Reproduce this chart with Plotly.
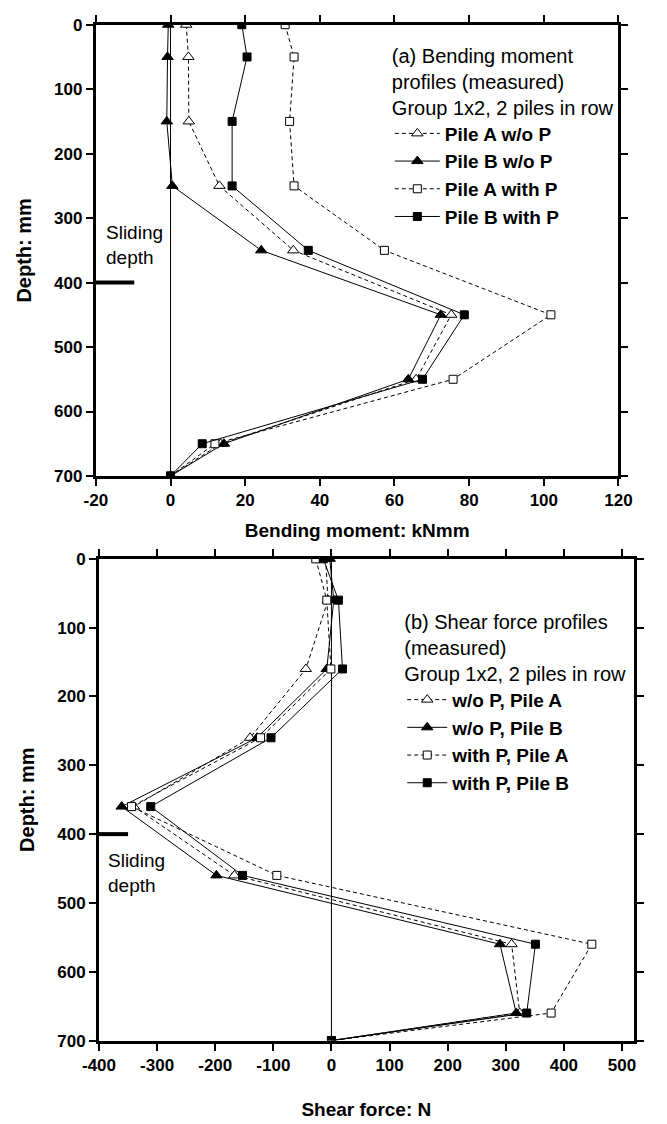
import plotly.graph_objects as go

# ---------------- data ----------------
depth_bm = [0, 50, 150, 250, 350, 450, 550, 650, 700]
bm_pileA_woP = [4.2, 4.8, 4.9, 13.1, 32.9, 75.2, 65.8, 13.4, 0]
bm_pileB_woP = [-0.6, -0.8, -1.0, 0.5, 24.3, 72.4, 63.7, 14.3, 0]
bm_pileA_withP = [30.7, 33.1, 31.9, 33.1, 57.3, 101.9, 75.7, 11.9, 0]
bm_pileB_withP = [19.1, 20.5, 16.5, 16.5, 36.9, 78.7, 67.5, 8.5, 0]

depth_sf = [0, 60, 160, 260, 360, 460, 560, 660, 700]
sf_woP_A = [-10, -6, -44, -140, -340, -167, 310, 324, 0]
sf_woP_B = [-3, 4, -8, -128, -361, -198, 290, 318, 0]
sf_withP_A = [-27, -8, -1, -122, -344, -94, 448, 378, 0]
sf_withP_B = [-14, 12, 19, -104, -311, -153, 351, 336, 0]

bm_ticks = [-20, 0, 20, 40, 60, 80, 100, 120]
sf_ticks = [-400, -300, -200, -100, 0, 100, 200, 300, 400, 500]
depth_ticks = [0, 100, 200, 300, 400, 500, 600, 700]

sliding_depth = 400
bm_slide_x = [-20, -9.7]
sf_slide_x = [-400, -350]

bm_names = ["Pile A w/o P", "Pile B w/o P", "Pile A with P", "Pile B with P"]
sf_names = ["w/o P, Pile A", "w/o P, Pile B", "with P, Pile A", "with P, Pile B"]

# ---------------- styles ----------------
FONT = "Liberation Sans"
styles = [
    dict(symbol="triangle-up", fill="white", dash="4px,3px", size=10),
    dict(symbol="triangle-up", fill="black", dash="solid", size=10),
    dict(symbol="square", fill="white", dash="4px,3px", size=8),
    dict(symbol="square", fill="black", dash="solid", size=8),
]

W, H = 667, 1124
BM_XDOM = [82.7 / W, 630.8 / W]
BM_YDOM = [1 - 475 / H, 1 - 16 / H]
SF_XDOM = [86 / W, 646.7 / W]
SF_YDOM = [1 - 1049.3 / H, 1 - 559.3 / H]
BM_XRANGE = [-20, 120]
SF_XRANGE = [-400, 520]
DEPTH_RANGE = [700, 0]

fig = go.Figure()

for xa, ya, sx in [("x", "y", bm_slide_x), ("x2", "y2", sf_slide_x)]:
    fig.add_trace(go.Scatter(x=[0, 0], y=[depth_ticks[0], depth_ticks[-1]], mode="lines",
                             line=dict(color="black", width=1), showlegend=False,
                             xaxis=xa, yaxis=ya, hoverinfo="skip"))
    fig.add_trace(go.Scatter(x=sx, y=[sliding_depth, sliding_depth], mode="lines",
                             line=dict(color="black", width=4), showlegend=False,
                             xaxis=xa, yaxis=ya, hoverinfo="skip"))

for name, xs, st in zip(bm_names, [bm_pileA_woP, bm_pileB_woP, bm_pileA_withP, bm_pileB_withP], styles):
    fig.add_trace(go.Scatter(
        x=xs, y=depth_bm, name=name, mode="lines+markers",
        line=dict(color="black", width=1, dash=st["dash"]),
        marker=dict(symbol=st["symbol"], size=st["size"], color=st["fill"],
                    line=dict(color="black", width=1)),
        xaxis="x", yaxis="y", legend="legend"))

for name, xs, st in zip(sf_names, [sf_woP_A, sf_woP_B, sf_withP_A, sf_withP_B], styles):
    fig.add_trace(go.Scatter(
        x=xs, y=depth_sf, name=name, mode="lines+markers",
        line=dict(color="black", width=1, dash=st["dash"]),
        marker=dict(symbol=st["symbol"], size=st["size"], color=st["fill"],
                    line=dict(color="black", width=1)),
        xaxis="x2", yaxis="y2", legend="legend2"))

tickfont = dict(family=FONT, size=17, color="black", weight="bold")
titlefont = dict(family=FONT, size=19, color="black", weight="bold")
ytitlefont = dict(family=FONT, size=20, color="black", weight="bold")


def axis(**kw):
    d = dict(showline=True, linewidth=3, linecolor="black", mirror="allticks",
             ticks="outside", ticklen=7, tickwidth=2, tickcolor="black",
             showgrid=False, zeroline=False, tickfont=tickfont)
    d.update(kw)
    return d


fig.update_layout(
    width=W, height=H, margin=dict(l=0, r=0, t=0, b=0),
    paper_bgcolor="white", plot_bgcolor="white",
    font=dict(family=FONT, color="black"),
    xaxis=axis(domain=BM_XDOM, anchor="y", range=BM_XRANGE,
               tickmode="array", tickvals=bm_ticks, ticktext=[str(v) for v in bm_ticks],
               title=dict(text="Bending moment: kNmm", font=titlefont, standoff=15)),
    yaxis=axis(domain=BM_YDOM, anchor="x", range=DEPTH_RANGE,
               tickmode="array", tickvals=depth_ticks, ticktext=[str(v) for v in depth_ticks],
               title=dict(text="Depth: mm", font=ytitlefont, standoff=18)),
    xaxis2=axis(domain=SF_XDOM, anchor="y2", range=SF_XRANGE,
                tickmode="array", tickvals=sf_ticks, ticktext=[str(v) for v in sf_ticks],
                title=dict(text="Shear force: N", font=titlefont, standoff=29)),
    yaxis2=axis(domain=SF_YDOM, anchor="x2", range=DEPTH_RANGE,
                tickmode="array", tickvals=depth_ticks, ticktext=[str(v) for v in depth_ticks],
                title=dict(text="Depth: mm", font=ytitlefont, standoff=18)),
    legend=dict(x=391 / W, y=1 - 28 / H, xanchor="left", yanchor="top",
                bgcolor="rgba(0,0,0,0)", borderwidth=0, itemwidth=45,
                font=dict(family=FONT, size=19, color="black", weight="bold"),
                title=dict(text="(a) Bending moment<br>profiles (measured)<br>Group 1x2, 2 piles in row",
                           font=dict(family=FONT, size=20, color="black", weight="normal")),
                tracegroupgap=0),
    legend2=dict(x=404 / W, y=1 - 604 / H, xanchor="left", yanchor="top",
                 bgcolor="rgba(0,0,0,0)", borderwidth=0, itemwidth=40,
                 font=dict(family=FONT, size=19, color="black", weight="bold"),
                 title=dict(text="(b) Shear force profiles<br>(measured)<br>Group 1x2, 2 piles in row",
                            font=dict(family=FONT, size=20, color="black", weight="normal")),
                 tracegroupgap=0),
    annotations=[
        dict(text="Sliding<br>depth", x=-17.7, y=342, xref="x", yref="y", xanchor="left",
             yanchor="middle", align="left", showarrow=False,
             font=dict(family=FONT, size=19, color="black")),
        dict(text="Sliding<br>depth", x=-388, y=457, xref="x2", yref="y2", xanchor="left",
             yanchor="middle", align="left", showarrow=False,
             font=dict(family=FONT, size=19, color="black")),
    ],
)

fig.write_html("out.html")
